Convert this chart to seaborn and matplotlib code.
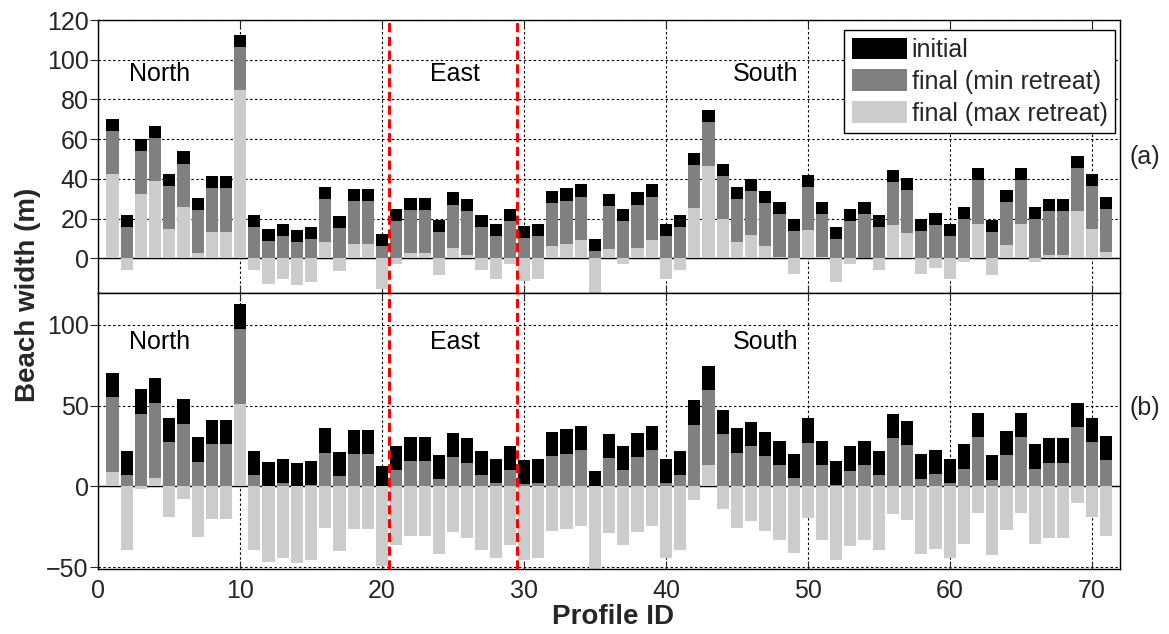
import matplotlib
matplotlib.use("Agg")
import matplotlib.pyplot as plt
import seaborn as sns
from matplotlib.patches import Patch

# ---------------- data ----------------
profile_id = list(range(1, 72))

initial = [70.3, 22.0, 60.0, 66.8, 42.5, 53.8, 30.3, 41.3, 41.3, 112.5,
           22.0, 15.0, 17.2, 14.3, 15.8, 35.8, 21.3, 35.0, 35.0, 12.3,
           25.0, 30.5, 30.5, 19.5, 33.2, 29.7, 22.0, 17.2, 25.0, 16.2,
           17.2, 33.8, 35.2, 37.2, 9.7, 32.5, 25.0, 33.2, 37.2, 17.2,
           22.0, 53.2, 74.5, 47.5, 35.8, 39.8, 33.8, 28.3, 20.0, 42.0,
           28.3, 15.8, 24.8, 28.2, 22.0, 44.7, 40.5, 19.8, 22.7, 17.2,
           26.0, 45.3, 19.2, 34.5, 45.3, 26.0, 29.7, 29.7, 51.5, 42.5, 31.0]

final_min_a = [64.2, 15.9, 53.9, 60.7, 36.4, 47.7, 24.2, 35.2, 35.2, 106.4,
               15.9, 8.9, 11.1, 8.2, 9.7, 29.7, 15.2, 28.9, 28.9, 6.2,
               18.9, 24.4, 24.4, 13.4, 27.1, 23.6, 15.9, 11.1, 18.9, 10.1,
               11.1, 27.7, 29.1, 31.1, 3.6, 26.4, 18.9, 27.1, 31.1, 11.1,
               15.9, 47.1, 68.4, 41.4, 29.7, 33.7, 27.7, 22.2, 13.9, 35.9,
               22.2, 9.7, 18.7, 22.1, 15.9, 38.6, 34.4, 13.7, 16.6, 11.1,
               19.9, 39.2, 13.1, 28.4, 39.2, 19.9, 23.6, 23.6, 45.4, 36.4, 24.9]

final_max_a = [42.5, -5.8, 32.2, 39.0, 14.7, 26.0, 2.5, 13.5, 13.5, 84.7,
               -5.8, -12.8, -10.6, -13.5, -12.0, 8.0, -6.5, 7.2, 7.2, -15.5,
               -2.8, 2.7, 2.7, -8.3, 5.4, 1.9, -5.8, -10.6, -2.8, -11.6,
               -10.6, 6.0, 7.4, 9.4, -18.1, 4.7, -2.8, 5.4, 9.4, -10.6,
               -5.8, 25.4, 46.7, 19.7, 8.0, 12.0, 6.0, 0.5, -7.8, 14.2,
               0.5, -12.0, -3.0, 0.4, -5.8, 16.9, 12.7, -8.0, -5.1, -10.6,
               -1.8, 17.5, -8.6, 6.7, 17.5, -1.8, 1.9, 1.9, 23.7, 14.7, 3.2]

final_min_b = [55.3, 7.0, 45.0, 51.8, 27.5, 38.8, 15.3, 26.3, 26.3, 97.5,
               7.0, 0.0, 2.2, -0.7, 0.8, 20.8, 6.3, 20.0, 20.0, -2.7,
               10.0, 15.5, 15.5, 4.5, 18.2, 14.7, 7.0, 2.2, 10.0, 1.2,
               2.2, 18.8, 20.2, 22.2, -5.3, 17.5, 10.0, 18.2, 22.2, 2.2,
               7.0, 38.2, 59.5, 32.5, 20.8, 24.8, 18.8, 13.3, 5.0, 27.0,
               13.3, 0.8, 9.8, 13.2, 7.0, 29.7, 25.5, 4.8, 7.7, 2.2,
               11.0, 30.3, 4.2, 19.5, 30.3, 11.0, 14.7, 14.7, 36.5, 27.5, 16.0]

final_max_b = [8.8, -39.5, -1.5, 5.3, -19.0, -7.7, -31.2, -20.2, -20.2, 51.0,
               -39.5, -46.5, -44.3, -47.2, -45.7, -25.7, -40.2, -26.5, -26.5, -49.2,
               -36.5, -31.0, -31.0, -42.0, -28.3, -31.8, -39.5, -44.3, -36.5, -45.3,
               -44.3, -27.7, -26.3, -24.3, -51.8, -29.0, -36.5, -28.3, -24.3, -44.3,
               -39.5, -8.3, 13.0, -14.0, -25.7, -21.7, -27.7, -33.2, -41.5, -19.5,
               -33.2, -45.7, -36.7, -33.3, -39.5, -16.8, -21.0, -41.7, -38.8, -44.3,
               -35.5, -16.2, -42.3, -27.0, -16.2, -35.5, -31.8, -31.8, -10.0, -19.0, -30.5]

legend_labels = ["initial", "final (min retreat)", "final (max retreat)"]
region_labels = ["North", "East", "South"]
panel_tags = ["(a)", "(b)"]
boundaries = [20.5, 29.5]
x_ticks = [0, 10, 20, 30, 40, 50, 60, 70]
y_ticks_a = [0, 20, 40, 60, 80, 100, 120]
y_ticks_b = [-50, 0, 50, 100]

# ---------------- style ----------------
sns.set_style("ticks")
plt.rcParams['font.family'] = ['Liberation Sans', 'DejaVu Sans']
plt.rcParams['axes.linewidth'] = 1.0

W, H = 1169, 634
fig = plt.figure(figsize=(W / 100, H / 100), dpi=100)
L, R = 98.3 / W, 1120 / W
ax_a = fig.add_axes([L, 1 - 293.3 / H, R - L, (293.3 - 20) / H])
ax_b = fig.add_axes([L, 1 - 569.3 / H, R - L, (569.3 - 293.3) / H])

colors = ['#000000', '#808080', '#cccccc']


def draw_panel(ax, mins, maxs, ylim, yticks, text_y, show_xlabels):
    for vals, c in zip([initial, mins, maxs], colors):
        sns.barplot(x=profile_id, y=vals, native_scale=True, color=c,
                    saturation=1, width=0.86, errorbar=None, linewidth=0,
                    ax=ax)
    ax.set_xlim(0, 72)
    ax.set_ylim(*ylim)
    ax.set_xticks(x_ticks)
    ax.set_yticks(yticks)
    ax.set_axisbelow(True)
    ax.grid(True, color='black', linestyle=(0, (2.2, 2.2)), linewidth=0.8)
    ax.axhline(0, color='black', linewidth=1.0, zorder=0.6)
    for b in boundaries:
        ax.axvline(b, color='red', linestyle=(0, (3, 1.5)), linewidth=2.2,
                   zorder=5)
    for name, x in zip(region_labels, [4.3, 25.1, 47.0]):
        ax.text(x, text_y, name, ha='center', va='center', fontsize=18,
                color='black')
    ax.tick_params(axis='x', direction='in', top=True, bottom=True,
                   length=6, width=0.8, labelsize=18, pad=7,
                   labelbottom=show_xlabels)
    ax.tick_params(axis='y', direction='out', length=6, width=0.8,
                   labelsize=18, pad=1)
    for s in ax.spines.values():
        s.set_visible(True)
        s.set_linewidth(1.0)
        s.set_color('black')
    ax.set_xlabel('')
    ax.set_ylabel('')


draw_panel(ax_a, final_min_a, final_max_a, (-17.6, 120), y_ticks_a, 93.0, False)
draw_panel(ax_b, final_min_b, final_max_b, (-51.3, 119.4), y_ticks_b, 89.0, True)

handles = [Patch(facecolor=c, edgecolor='none') for c in colors]
leg = ax_a.legend(handles, legend_labels, loc='upper right',
                  bbox_to_anchor=(0.9951, 0.9634), borderaxespad=0,
                  frameon=True, fancybox=False, edgecolor='black',
                  framealpha=1, fontsize=18, handlelength=2.2,
                  handleheight=0.95, handletextpad=0.2, labelspacing=0.3,
                  borderpad=0.3)
leg.get_frame().set_linewidth(1.0)
leg.set_zorder(10)

fig.text(1145 / W, 1 - 157 / H, panel_tags[0], ha='center', va='center',
         fontsize=18)
fig.text(1145 / W, 1 - 408 / H, panel_tags[1], ha='center', va='center',
         fontsize=18)

fig.text(28 / W, 1 - 295 / H, 'Beach width (m)', rotation=90, ha='center',
         va='center', fontsize=20, fontweight='bold')
fig.text(613 / W, 1 - 617 / H, 'Profile ID', ha='center', va='center',
         fontsize=20, fontweight='bold')

fig.savefig('out.png', dpi=100)
